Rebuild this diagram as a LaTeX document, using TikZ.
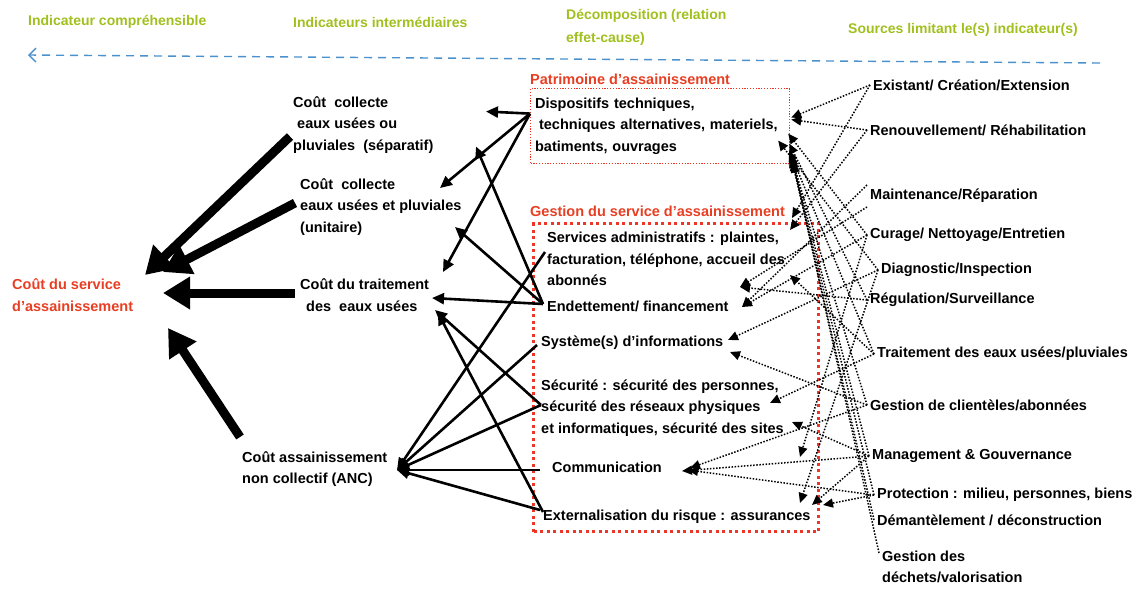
\documentclass[tikz,border=0pt]{standalone}
\usepackage{fontspec}
\setmainfont{Liberation Sans}
\usetikzlibrary{arrows.meta,positioning,calc}
\definecolor{headgreen}{RGB}{160,192,30}
\definecolor{titlered}{RGB}{232,62,35}
\definecolor{boxred}{RGB}{236,55,40}
\definecolor{flowblue}{RGB}{75,145,205}

\begin{document}
\begin{tikzpicture}[x=1pt, y=-1pt, >=Latex,
  every node/.style={font=\bfseries\fontsize{14.5}{21.5}\selectfont, inner sep=0pt, align=left},
  head/.style={text=headgreen, font=\bfseries\fontsize{14}{23}\selectfont},
  redtitle/.style={text=titlered},
  patbox/.style={draw=boxred, line width=1.2pt, dash pattern=on 1.2pt off 1.6pt},
  gesbox/.style={draw=boxred, line width=3pt, dash pattern=on 3pt off 3.5pt},
  bigarrow/.style={line width=9pt, -{Triangle[length=27pt,width=31pt]}},
  link/.style={line width=2.6pt, -{Triangle[length=12pt,width=11pt]}},
  dep/.style={line width=1.5pt, dash pattern=on 1.5pt off 1.6pt, -{Triangle[length=10pt,width=9pt]}}]
\useasboundingbox (0,0) rectangle (1133,590);

% column headers
\node[head, anchor=west] (h1) at (28,22) {Indicateur compréhensible};
\node[head, anchor=west] (h2) at (293,22) {Indicateurs intermédiaires};
\node[head, anchor=west] (h3) at (566,27) {Décomposition (relation\\effet-cause)};
\node[head, anchor=west] (h4) at (848,30) {Sources limitant le(s) indicateur(s)};
\coordinate (flowR) at (1100,63);
\coordinate (flowL) at (28,55);
\draw[flowblue, line width=1.4pt, dash pattern=on 8pt off 6pt, -{Straight Barb[length=7pt,width=14pt]}] (flowR) -- (flowL);

% indicators
\node[redtitle, anchor=west] (cout) at (12,295) {Coût du service\\d’assainissement};
\node[anchor=west] (i1) at (293,125) {Coût~ collecte\\\hspace*{4pt}eaux usées ou\\pluviales~ (séparatif)};
\node[anchor=west] (i2) at (300,207) {Coût~ collecte\\eaux usées et pluviales\\(unitaire)};
\node[anchor=west] (i3) at (300,295) {Coût du traitement\\\hspace*{6pt}des~ eaux usées};
\node[anchor=west] (i4) at (242,469) {Coût assainissement\\non collectif (ANC)};

% decomposition
\node[patbox, anchor=north west, minimum width=259pt, minimum height=75pt, inner xsep=4pt, text width=250pt] (disp) at (530,88)
  {Dispositifs techniques,\\\hspace*{4pt}techniques alternatives, materiels,\\batiments, ouvrages};
\node[redtitle, above right=3pt and 0pt of disp.north west] (pat) {Patrimoine d’assainissement};
\node[gesbox, anchor=north west, minimum width=285pt, minimum height=308pt] (gbox) at (532,222) {};
\node[redtitle, above right=5pt and -2pt of gbox.north west] (gest) {Gestion du service d’assainissement};
\node[anchor=west] (serv) at (547,259) {Services administratifs : plaintes,\\facturation, téléphone, accueil des\\abonnés};
\node[anchor=west] (endet) at (547,306) {Endettement/ financement};
\node[anchor=west] (syst) at (541,343) {Système(s) d’informations};
\node[anchor=west] (secu) at (541,408) {Sécurité : sécurité des personnes,\\sécurité des réseaux physiques\\et informatiques, sécurité des sites};
\node[anchor=west] (comm) at (552,467) {Communication};
\node[anchor=west] (ext) at (543,517) {Externalisation du risque : assurances};

% sources
\node[anchor=west] (s1) at (873,85) {Existant/ Création/Extension};
\node[anchor=west] (s2) at (870,130) {Renouvellement/ Réhabilitation};
\node[anchor=west] (s3) at (870,196) {Maintenance/Réparation};
\node[anchor=west] (s4) at (870,235) {Curage/ Nettoyage/Entretien};
\node[anchor=west] (s5) at (881,270) {Diagnostic/Inspection};
\node[anchor=west] (s6) at (870,300) {Régulation/Surveillance};
\node[anchor=west] (s7) at (877,354) {Traitement des eaux usées/pluviales};
\node[anchor=west] (s8) at (870,405) {Gestion de clientèles/abonnées};
\node[anchor=west] (s9) at (872,456) {Management \& Gouvernance};
\node[anchor=west] (s10) at (877,495) {Protection : milieu, personnes, biens};
\node[anchor=west] (s11) at (877,520) {Démantèlement / déconstruction};
\node[anchor=west] (s12) at (882,567) {Gestion des\\déchets/valorisation};

% thick arrows to the comprehensive indicator
\draw[bigarrow] ($(i1.west)+(-3,11.5)$) -- ($(cout.west)+(133,-20)$);
\draw[bigarrow] ($(i2.west)+(-5,-4)$) -- ($(cout.west)+(151,-23)$);
\draw[bigarrow] ($(i3.west)+(-5,-2)$) -- ($(cout.west)+(151,-2)$);
\draw[bigarrow] ($(i4.west)+(-2,-32)$) -- ($(cout.west)+(156,33)$);

% effect-cause links
\foreach \t/\dx/\dy in {i1/193/-13.5, i2/140/-19, i3/143/-23}
  \draw[link] ($(disp.west)+(0,-12.5)$) -- ($(\t.west)+(\dx,\dy)$);
\foreach \t/\dx/\dy in {i1/183/21.5, i2/155/20, i3/132/3}
  \draw[link] ($(endet.west)+(-4,-2)$) -- ($(\t.west)+(\dx,\dy)$);
\draw[link] ($(secu.west)+(0,-3)$) -- ($(i3.west)+(135,15)$);
\draw[link] ($(ext.west)+(0,-5)$) -- ($(i3.west)+(138,18)$);
\foreach \s/\dx/\dy in {serv/-2/-7, syst/-4/2, secu/0/-3, comm/-12/3, ext/-3/-7}
  \draw[link] ($(\s.west)+(\dx,\dy)$) -- ($(i4.west)+(155,1)$);

% limiting sources
\foreach \s/\oy/\t/\dx/\dy in {s1/0/disp.east/1/-8.5, s2/0/disp.east/1/-6.5,
    s1/0/serv.west/245/-41, s2/0/serv.west/243/-29,
    s3/-11/endet.west/195/1, s3/11/serv.west/193/28,
    s4/0/disp.east/-2/7.5, s4/0/comm.west/248/-10, s4/0/endet.west/195/1,
    s5/0/disp.east/-12/14.5, s5/0/ext.west/257/-14, s5/0/syst.west/187/-3,
    s6/0/serv.west/193/28, s6/0/disp.east/-1/17.5,
    s7/0/serv.west/243/16, s7/0/secu.west/229/-5, s7/0/disp.east/-1/24.5,
    s8/0/syst.west/189/9, s8/0/comm.west/138/1, s8/0/disp.east/0/27.5,
    s9/0/secu.west/251/14, s9/0/comm.west/130/4, s9/0/ext.west/269/-12, s9/0/disp.east/1/29.5,
    s10/0/ext.west/280/-12, s10/0/comm.west/136/3, s10/0/disp.east/1/31.5,
    s11/0/disp.east/2/34.5, s12/-14/disp.east/3/36.5}
  \draw[dep] ($(\s.west)+(-3,\oy)$) -- ($(\t)+(\dx,\dy)$);
\end{tikzpicture}
\end{document}
